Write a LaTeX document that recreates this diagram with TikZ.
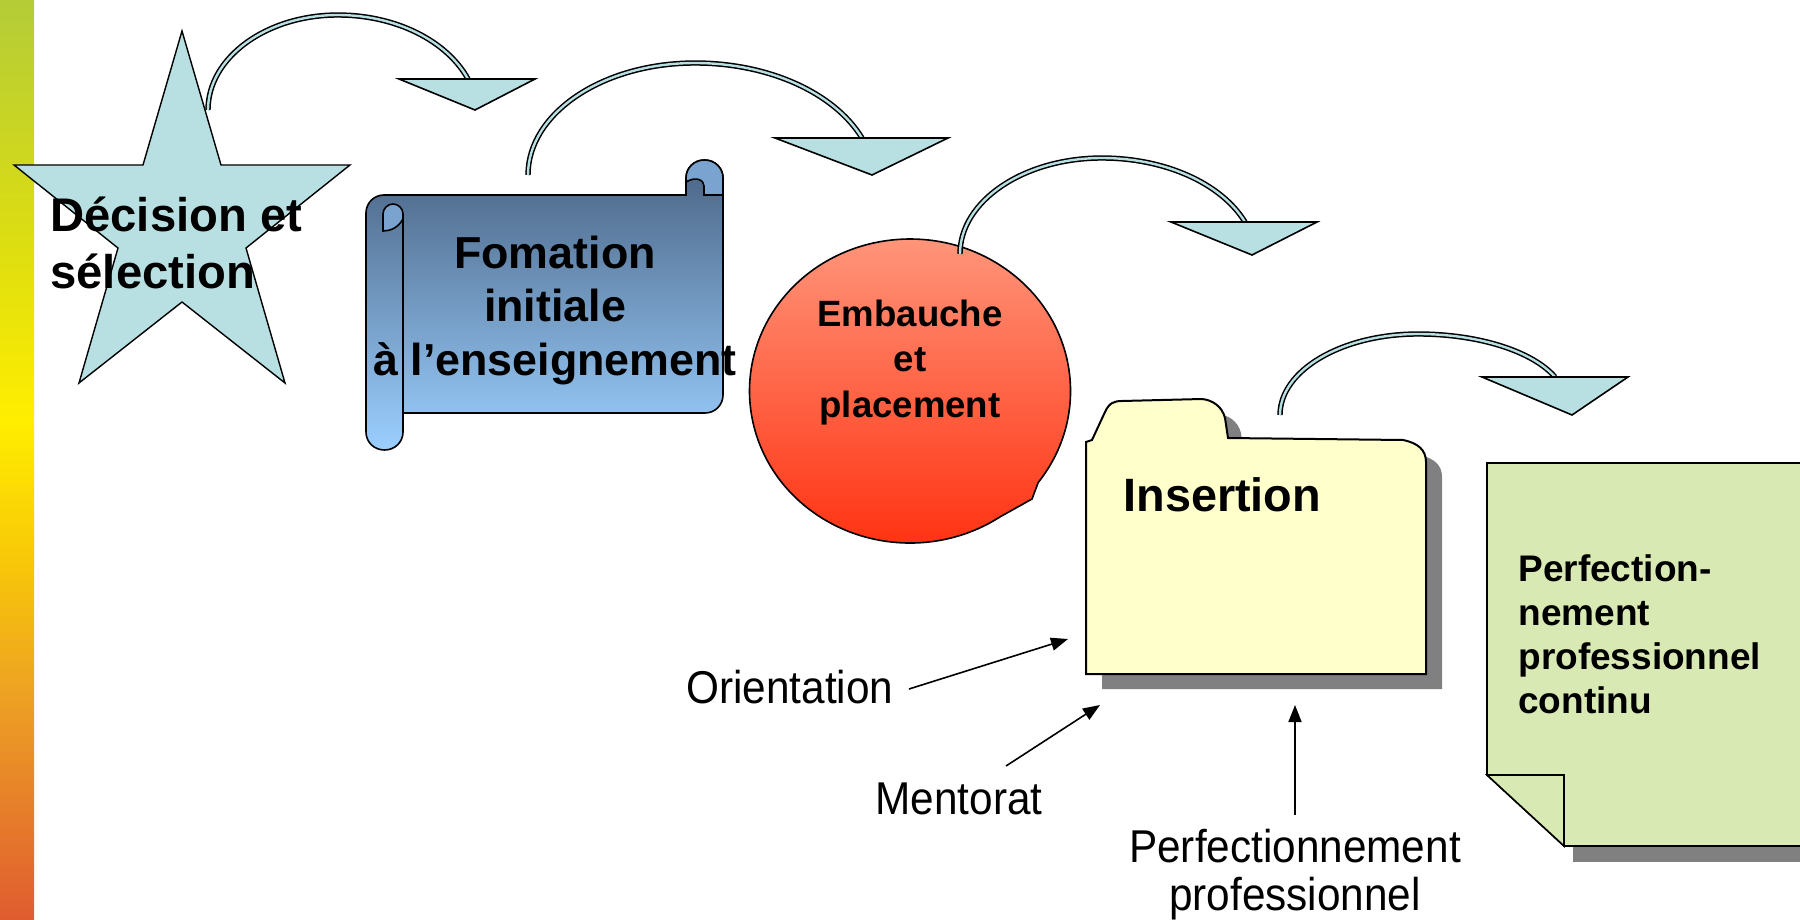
\documentclass[tikz,border=0pt]{standalone}
\usepackage{fontspec}
\setmainfont{Liberation Sans}
\newfontfamily\labfont[FakeStretch=0.92]{Liberation Sans}
\usetikzlibrary{arrows.meta}
\definecolor{arcblue}{HTML}{B8E0E3}
\definecolor{folderfill}{HTML}{FFFFCC}
\definecolor{pagefill}{HTML}{D9E9B3}
\definecolor{shadowgray}{HTML}{808080}
\definecolor{scrolltop}{HTML}{4A6484}
\definecolor{scrollbot}{HTML}{9BCFFF}
\definecolor{curlblue}{HTML}{7AA3CF}
\definecolor{circtop}{HTML}{FF9B80}
\definecolor{circbot}{HTML}{FF3010}
\definecolor{barA}{HTML}{E05C30}
\definecolor{barB}{HTML}{EDA024}
\definecolor{barC}{HTML}{F8C808}
\definecolor{barD}{HTML}{FFEE00}
\definecolor{barE}{HTML}{DEDE10}
\definecolor{barF}{HTML}{B4CC38}
\pgfdeclareverticalshading{lbar}{100bp}{color(0bp)=(barA); color(25bp)=(barA); color(37bp)=(barB); color(44.6bp)=(barC); color(52.2bp)=(barD); color(61.4bp)=(barE); color(75bp)=(barF); color(100bp)=(barF)}
\begin{document}
\begin{tikzpicture}[x=0.5pt,y=-0.5pt,
  arcline/.style={draw=black, line width=0.75pt, double=arcblue, double distance=1.2pt},
  tri/.style={draw=black, line width=0.8pt, fill=arcblue, line join=miter},
  shapeline/.style={draw=black, line width=0.8pt},
  txt/.style={inner sep=0pt},
  lbl/.style={inner sep=0pt, anchor=base west, font=\labfont\fontsize{23}{24}\selectfont},
  lblarrow/.style={draw=black, line width=0.8pt, -{Triangle[length=8.5pt,width=6.5pt]}}]
\useasboundingbox (0,0) rectangle (1800,920);
\fill[white] (0,0) rectangle (1800,920);
% left bar
\shade[shading=lbar] (0,0) rectangle (34,920);

% star
\draw[shapeline, line width=0.7pt, fill=arcblue] (182,31) -- (221,165) -- (350,165) -- (246,248) -- (285,383) -- (182,302) -- (79,383) -- (118,248) -- (14,165) -- (143,165) -- cycle;
\node[txt, anchor=base west] (dec) at (50,231) {\parbox[t]{300pt}{\raggedright\bfseries\fontsize{23.6}{28.5}\selectfont Décision et\\sélection}};

% curved arrow 1
\coordinate (a1s) at (208,110); \coordinate (a1t) at (338,15); \coordinate (a1e) at (468,79);
\draw[arcline] (a1s) .. controls (208,57.5) and (266.2,15) .. (a1t) .. controls (395.2,15) and (446.6,40.3) .. (a1e);
\draw[tri] (399,79) -- (535,79) -- (475,110) -- cycle;

% scroll
\shade[top color=scrolltop, bottom color=scrollbot, draw=black, line width=0.8pt]
  (403,413) -- (705,413) .. controls (715,413) and (723,405) .. (723,395) -- (723,178)
  .. controls (723,168) and (715,160) .. (704.5,160) .. controls (694,160) and (686,168) .. (686,178)
  -- (686,195) -- (384,195) .. controls (374,195) and (366,203) .. (366,213) -- (366,432)
  .. controls (366,442) and (374,450) .. (384.5,450) .. controls (395,450) and (403,442) .. (403,432) -- cycle;
\draw[shapeline] (403,213) -- (403,432);
\draw[shapeline, fill=curlblue] (383,231) -- (383,214) .. controls (383,208.5) and (387.5,204) .. (393,204) .. controls (398.5,204) and (403,208.5) .. (403,214) -- (403,219) .. controls (398,228) and (390,231) .. (383,231) -- cycle;
\draw[shapeline, fill=curlblue] (686,178) .. controls (686,168) and (694,160) .. (704.5,160) .. controls (715,160) and (723,168) .. (723,178) -- (723,195) -- (704,195) -- (704,186) .. controls (704,180) and (696,176) .. (686,182) -- cycle;
\node[txt, anchor=base] (form) at (555,268) {\parbox[t]{300pt}{\centering\bfseries\fontsize{22.4}{26.75}\selectfont Fomation\\initiale\\à l’enseignement}};

% curved arrow 2
\coordinate (a2s) at (528,175); \coordinate (a2t) at (695,63); \coordinate (a2e) at (862,138);
\draw[arcline] (a2s) .. controls (528,113.1) and (602.8,63) .. (a2t) .. controls (768.4,63) and (834.4,92.6) .. (a2e);
\draw[tri] (775,138) -- (948,138) -- (872,175) -- cycle;

% circle
\shade[top color=circtop, bottom color=circbot, draw=black, line width=0.8pt]
  (1038.2,482.5) arc[start angle=-37, end angle=304, x radius=80.25pt, y radius=76pt] -- (1032,499) -- cycle;
\node[txt, anchor=base] (emb) at (910,326) {\parbox[t]{200pt}{\centering\bfseries\fontsize{18.3}{22.75}\selectfont Embauche\\et\\placement}};

% curved arrow 3
\coordinate (a3s) at (960,254); \coordinate (a3t) at (1102,158); \coordinate (a3e) at (1245,222);
\draw[arcline] (a3s) .. controls (960,201) and (1023.6,158) .. (a3t) .. controls (1164.9,158) and (1221.4,183.3) .. (a3e);
\draw[tri] (1171,222) -- (1317,222) -- (1252,255) -- cycle;

% folder
\def\folderpath{(1086,442) -- (1092,440) -- (1105,412) .. controls (1109,403) and (1114,401) .. (1122,401) -- (1202,399) .. controls (1212,400) and (1222,406) .. (1225,418) -- (1228,438) -- (1403,440) .. controls (1418,443) and (1426,450) .. (1426,462) -- (1426,674) -- (1086,674) -- cycle}
\begin{scope}[shift={(16,15)}]
\fill[shadowgray] \folderpath;
\end{scope}
\draw[shapeline, fill=folderfill, line width=1pt] \folderpath;
\node[txt, anchor=base west] (ins) at (1123,511) {\bfseries\fontsize{23.4}{28}\selectfont Insertion};

% curved arrow 4
\coordinate (a4s) at (1280,415); \coordinate (a4t) at (1418,334); \coordinate (a4e) at (1555,377);
\draw[arcline] (a4s) .. controls (1280,370.3) and (1341.8,334) .. (a4t) .. controls (1478.2,334) and (1532.4,351) .. (a4e);
\draw[tri] (1482,377) -- (1628,377) -- (1572,415) -- cycle;

% page
\fill[shadowgray] (1573,846) rectangle (1815,862);
\draw[shapeline, fill=pagefill] (1487,463) -- (1815,463) -- (1815,846) -- (1564,846) -- (1487,775) -- cycle;
\draw[shapeline, fill=pagefill] (1487,775) -- (1564,775) -- (1564,846) -- cycle;
\node[txt, anchor=base west] (perfc) at (1518,581) {\parbox[t]{300pt}{\raggedright\bfseries\fontsize{18.5}{22.1}\selectfont Perfection-\\nement\\professionnel\\continu}};

% side labels
\node[lbl] (orient) at (686,703) {Orientation};
\node[lbl] (ment) at (875,814) {Mentorat};
\node[txt, anchor=base] (perf) at (1295,862) {\parbox[t]{300pt}{\centering\labfont\fontsize{23}{24}\selectfont Perfectionnement\\professionnel}};
\coordinate (o1) at (909,689); \coordinate (o2) at (1068,639);
\coordinate (m1) at (1006,766); \coordinate (m2) at (1100,705);
\coordinate (p1) at (1295,815); \coordinate (p2) at (1295,705);
\draw[lblarrow] (o1) -- (o2);
\draw[lblarrow] (m1) -- (m2);
\draw[lblarrow] (p1) -- (p2);
\end{tikzpicture}
\end{document}
